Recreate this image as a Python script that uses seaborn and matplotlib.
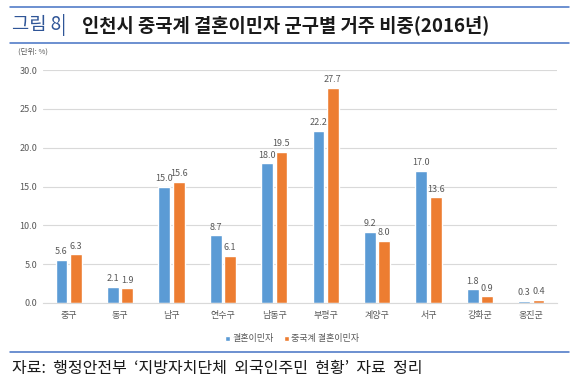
import pandas as pd
import matplotlib.pyplot as plt
import seaborn as sns
from matplotlib.lines import Line2D

# data
districts = ['중구', '동구', '남구', '연수구', '남동구', '부평구', '계양구', '서구', '강화군', '옹진군']
marriage_migrants = [5.6, 2.1, 15.0, 8.7, 18.0, 22.2, 9.2, 17.0, 1.8, 0.3]
chinese_migrants = [6.3, 1.9, 15.6, 6.1, 19.5, 27.7, 8.0, 13.6, 0.9, 0.4]
series_names = ['결혼이민자', '중국계 결혼이민자']
y_ticks = [0, 5, 10, 15, 20, 25, 30]

df = pd.DataFrame({
    'district': districts * 2,
    'value': marriage_migrants + chinese_migrants,
    'series': [series_names[0]] * len(districts) + [series_names[1]] * len(districts),
})

sns.set_style('white')
plt.rcParams['font.family'] = ['Noto Sans CJK KR', 'DejaVu Sans']

gray = '#595959'
line_blue = '#4472C4'

fig = plt.figure(figsize=(5.77, 3.86), dpi=100)
ax = fig.add_axes([43 / 577, 1 - 303 / 386, (557 - 43) / 577, (303 - 70) / 386])

sns.barplot(data=df, x='district', y='value', hue='series', order=districts,
            hue_order=series_names, palette=['#5B9BD5', '#ED7D31'],
            width=0.56, gap=0.18, ax=ax, saturation=1)

for cont in ax.containers:
    ax.bar_label(cont, fmt='%.1f', padding=2.5, fontsize=6.5, color=gray)

ax.set_ylim(0, 30)
ax.set_xlim(-0.5, len(districts) - 0.5)
ax.set_yticks(y_ticks)
ax.set_yticklabels([f'{t:.1f}' for t in y_ticks])
ax.set_xlabel('')
ax.set_ylabel('')
ax.tick_params(axis='both', length=0, labelsize=6.5, labelcolor=gray)
ax.tick_params(axis='x', pad=6)
ax.tick_params(axis='y', pad=4)
ax.yaxis.grid(True, color='#D9D9D9', linewidth=0.8)
ax.set_axisbelow(True)
for side in ['top', 'right', 'left']:
    ax.spines[side].set_visible(False)
ax.spines['bottom'].set_color('#D9D9D9')
ax.spines['bottom'].set_linewidth(0.8)

handles, labels = ax.get_legend_handles_labels()
ax.legend(handles, labels, loc='center', bbox_to_anchor=(292 / 577, 1 - 339 / 386),
          bbox_transform=fig.transFigure, ncol=2, frameon=False,
          handlelength=0.55, handleheight=0.55, handletextpad=0.2,
          columnspacing=1.2, fontsize=6.5, labelcolor=gray)

# header / footer decoration
for y in [7, 43, 352]:
    fig.add_artist(Line2D([10 / 577, 569 / 577], [1 - y / 386] * 2,
                          color=line_blue, linewidth=1.1))

fig.text(12 / 577, 1 - 25 / 386, '그림 8|', fontsize=13.5, color='#2F5597',
         va='center', ha='left')
fig.text(82 / 577, 1 - 25 / 386, '인천시 중국계 결혼이민자 군구별 거주 비중(2016년)',
         fontsize=13.5, fontweight='bold', color='#1A1A1A', va='center', ha='left')
fig.text(18 / 577, 1 - 52 / 386, '(단위: %)', fontsize=5.5, color=gray,
         va='center', ha='left')
fig.text(12 / 577, 1 - 368 / 386, '자료:  행정안전부  ‘지방자치단체  외국인주민  현황’  자료  정리',
         fontsize=11.5, color='#1A1A1A', va='center', ha='left')

fig.savefig('out.png', dpi=100)
